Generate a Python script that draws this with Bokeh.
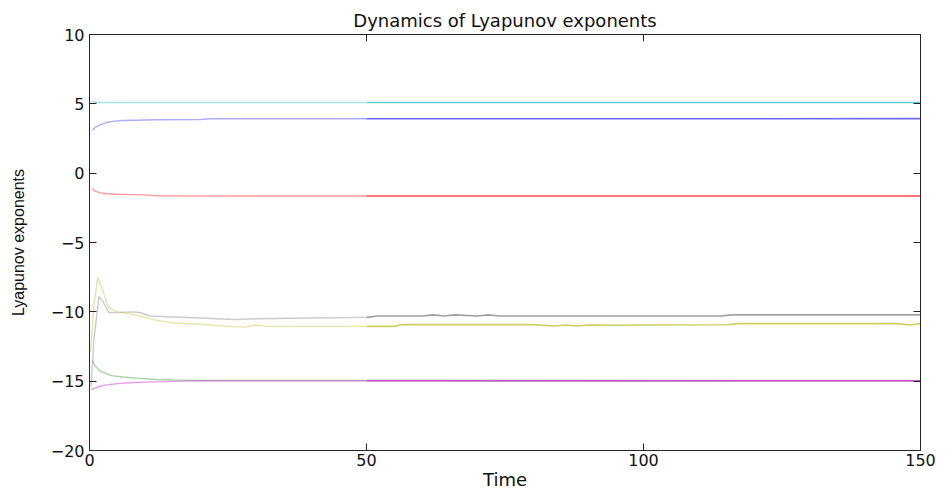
import numpy as np
from bokeh.plotting import figure
from bokeh.models import Range1d, LinearAxis, FixedTicker
from bokeh.embed import file_html
from bokeh.resources import INLINE

# ---- data ----
x_ticks = [0, 50, 100, 150]
x_tick_labels = ["0", "50", "100", "150"]
y_ticks = [-20, -15, -10, -5, 0, 5, 10]
y_tick_labels = ["\u221220", "\u221215", "\u221210", "\u22125", "0", "5", "10"]

cyan_t = [0.5, 2, 150]
cyan_v = [5.15, 5.1, 5.1]

blue_t = [0.5, 1, 2, 3, 4.5, 6, 8, 12, 20, 22, 150]
blue_v = [3.1, 3.3, 3.5, 3.65, 3.75, 3.8, 3.82, 3.85, 3.87, 3.92, 3.93]

red_t = [0.5, 1, 2, 3, 5, 8, 11, 12, 150]
red_v = [-1.1, -1.3, -1.42, -1.48, -1.52, -1.55, -1.58, -1.64, -1.65]

grey_t = [0.3, 0.8, 1.7, 2.5, 3.5, 5, 8, 9, 11, 14, 20, 26, 30, 40, 50, 52,
          60, 62, 64, 66, 70, 72, 74, 76, 100, 114, 116, 150]
grey_v = [-15.4, -12.0, -8.9, -9.3, -10.05, -10.05, -10.0, -10.05, -10.3, -10.35,
          -10.45, -10.55, -10.5, -10.45, -10.4, -10.3, -10.3, -10.22, -10.3, -10.22,
          -10.3, -10.22, -10.3, -10.3, -10.3, -10.3, -10.22, -10.22]

yellow_t = [0.2, 0.8, 1.5, 2.5, 3.5, 5, 8, 10, 12, 15, 20, 25, 28, 30, 32, 35,
            45, 55, 56.5, 80, 84, 86, 88, 90, 95, 100, 115, 117, 146, 148, 150]
yellow_v = [-12.9, -9.5, -7.5, -8.6, -9.7, -10.0, -10.2, -10.4, -10.6, -10.8,
            -10.9, -11.05, -11.1, -10.95, -11.05, -11.05, -11.05, -11.05, -10.92,
            -10.92, -11.02, -10.95, -11.02, -10.95, -10.97, -10.95, -10.93, -10.85,
            -10.85, -10.95, -10.85]

green_t = [0.5, 1, 2, 4, 6, 9, 12, 15, 20, 150]
green_v = [-13.5, -13.9, -14.3, -14.6, -14.7, -14.8, -14.88, -14.92, -14.95, -14.97]

magenta_t = [0.3, 1, 2, 3.5, 5, 8, 12, 17, 20, 150]
magenta_v = [-15.6, -15.5, -15.35, -15.25, -15.18, -15.1, -15.05, -15.0, -14.97, -14.97]

series = [
    (cyan_t, cyan_v, "#5fd0d0"),
    (blue_t, blue_v, "#6a6aff"),
    (red_t, red_v, "#ff4444"),
    (grey_t, grey_v, "#a0a0a0"),
    (yellow_t, yellow_v, "#cfcf62"),
    (green_t, green_v, "#66aa66"),
    (magenta_t, magenta_v, "#d050d0"),
]

FONT = "DejaVu Sans"
TXT = "#111111"

p = figure(width=945, height=492, output_backend="svg", toolbar_location=None,
           x_range=Range1d(0, 150), y_range=Range1d(-20, 10),
           title="Dynamics of Lyapunov exponents",
           min_border_left=89, min_border_right=25, min_border_top=34,
           min_border_bottom=42)
p.background_fill_color = "white"
p.border_fill_color = "white"
p.outline_line_color = "#262626"
p.grid.visible = False

p.title.align = "center"
p.title.text_font = FONT
p.title.text_font_size = "18px"
p.title.text_font_style = "normal"
p.title.text_color = TXT
p.title.standoff = 8

def style_axis(ax, ticks, labels, show_labels):
    ax.ticker = FixedTicker(ticks=ticks)
    ax.axis_line_color = "#262626"
    ax.major_tick_line_color = "#262626"
    ax.major_tick_in = 7
    ax.major_tick_out = 0
    ax.minor_tick_line_color = None
    ax.major_label_text_font = FONT
    ax.major_label_text_color = TXT
    if show_labels:
        ax.major_label_overrides = {t: s for t, s in zip(ticks, labels)}
    else:
        ax.major_label_overrides = {t: "" for t in ticks}
        ax.major_label_standoff = 0

xa = p.xaxis[0]
style_axis(xa, x_ticks, x_tick_labels, True)
xa.major_label_text_font_size = "16px"
xa.major_label_standoff = 3
xa.axis_label = "Time"
xa.axis_label_text_font = FONT
xa.axis_label_text_font_size = "18px"
xa.axis_label_text_font_style = "normal"
xa.axis_label_text_color = TXT
xa.axis_label_standoff = 0

ya = p.yaxis[0]
style_axis(ya, y_ticks, y_tick_labels, True)
ya.major_label_text_font_size = "16px"
ya.major_label_standoff = 5
ya.axis_label = "Lyapunov exponents"
ya.axis_label_text_font = "Liberation Sans"
ya.axis_label_text_font_size = "16px"
ya.axis_label_text_font_style = "normal"
ya.axis_label_text_color = TXT
ya.axis_label_standoff = 21

top = LinearAxis()
style_axis(top, x_ticks, x_tick_labels, False)
p.add_layout(top, "above")
right = LinearAxis()
style_axis(right, y_ticks, y_tick_labels, False)
p.add_layout(right, "right")

SPLIT = 50.0
for t, v, c in series:
    t = np.asarray(t, float)
    v = np.asarray(v, float)
    vs = float(np.interp(SPLIT, t, v))
    lm = t < SPLIT
    rm = t > SPLIT
    lt = np.append(t[lm], SPLIT)
    lv = np.append(v[lm], vs)
    rt = np.insert(t[rm], 0, SPLIT)
    rv = np.insert(v[rm], 0, vs)
    p.line(lt, lv, line_color=c, line_width=1.4, line_alpha=0.55)
    p.line(rt, rv, line_color=c, line_width=1.6, line_alpha=1.0)

open("out.html", "w").write(file_html(p, INLINE))
